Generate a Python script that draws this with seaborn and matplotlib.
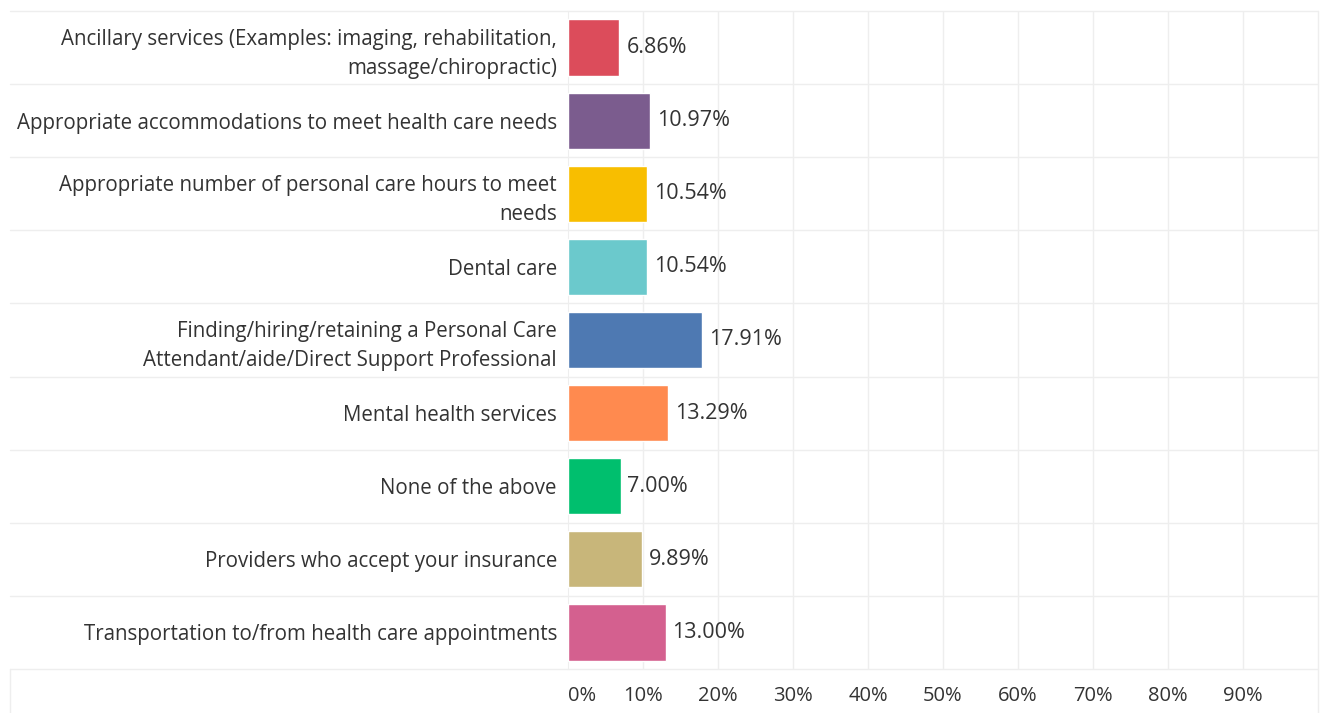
import pandas as pd
import matplotlib.pyplot as plt
import seaborn as sns
from matplotlib.lines import Line2D

categories = [
    'Ancillary services (Examples: imaging, rehabilitation,\nmassage/chiropractic)',
    'Appropriate accommodations to meet health care needs',
    'Appropriate number of personal care hours to meet\nneeds',
    'Dental care',
    'Finding/hiring/retaining a Personal Care\nAttendant/aide/Direct Support Professional',
    'Mental health services',
    'None of the above',
    'Providers who accept your insurance',
    'Transportation to/from health care appointments',
]
percent = [6.86, 10.97, 10.54, 10.54, 17.91, 13.29, 7.00, 9.89, 13.00]
bar_colors = ['#DC4C5B', '#7B5C8E', '#F8BE00', '#6BC9CC', '#4E79B2',
              '#FF8A4F', '#00BF6E', '#C8B67A', '#D4608F']
x_ticks = [0, 10, 20, 30, 40, 50, 60, 70, 80, 90]

df = pd.DataFrame({'category': categories, 'pct': percent})

sns.set_style('white')
plt.rcParams['font.family'] = ['Open Sans', 'DejaVu Sans']
text_col = '#333333'
grid_col = '#EEEEEE'

W, H = 1320, 713
fig = plt.figure(figsize=(W / 100, H / 100), dpi=100)
ax = fig.add_axes([568 / W, 1 - 669 / H, 750 / W, 658 / H])

sns.barplot(data=df, x='pct', y='category', hue='category', palette=bar_colors,
            legend=False, width=0.77, saturation=1, orient='h', ax=ax, zorder=3)

ax.set_xlim(0, 100)
ax.set_ylim(len(categories) - 0.5, -0.5)
ax.set_xlabel('')
ax.set_ylabel('')

# gridlines
for t in x_ticks[1:]:
    ax.axvline(t, color=grid_col, lw=1, zorder=0)

# row separators reaching into the label area
x0 = (10 - 568) / 750
for i in range(len(categories) + 1):
    ax.axhline(i - 0.5, xmin=x0, xmax=1, color=grid_col, lw=1, clip_on=False, zorder=1)

for s in ['top', 'bottom', 'right']:
    ax.spines[s].set_visible(False)
ax.spines['left'].set_color(grid_col)

# outer frame pieces
fig.add_artist(Line2D([1318 / W, 1318 / W], [1 - 11 / H, 0], color=grid_col, lw=1))
fig.add_artist(Line2D([10 / W, 10 / W], [1 - 669 / H, 0], color=grid_col, lw=1))

ax.set_yticks(range(len(categories)))
ax.set_yticklabels(categories, fontsize=14.8, color=text_col, linespacing=1.5)
ax.tick_params(axis='y', length=0, pad=8)

ax.set_xticks(x_ticks)
xl = ax.set_xticklabels([f'{t}%' for t in x_ticks], fontsize=14.5, color=text_col)
xl[0].set_horizontalalignment('left')
ax.tick_params(axis='x', length=0, pad=12)

for c in ax.containers:
    ax.bar_label(c, labels=[f'{v:.2f}%' for v in c.datavalues], padding=5,
                 fontsize=15.5, color=text_col)

fig.savefig('out.png', dpi=100, facecolor='white')
